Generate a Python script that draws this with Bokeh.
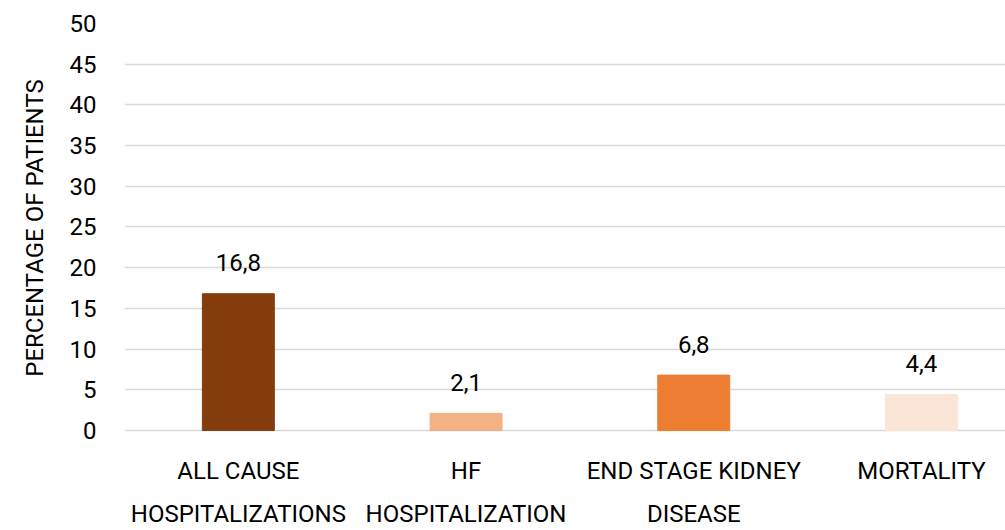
from bokeh.plotting import figure
from bokeh.models import ColumnDataSource, Range1d, LinearAxis, FixedTicker
from bokeh.embed import file_html
from bokeh.resources import INLINE
from bokeh.core.properties import value

categories_line1 = ["ALL CAUSE", "HF", "END STAGE KIDNEY", "MORTALITY"]
categories_line2 = ["HOSPITALIZATIONS", "HOSPITALIZATION", "DISEASE", ""]
values = [16.8, 2.1, 6.8, 4.4]
value_labels = ["16,8", "2,1", "6,8", "4,4"]
colors = ["#843C0C", "#F4B183", "#ED7D31", "#FBE5D6"]
y_ticks = [0, 5, 10, 15, 20, 25, 30, 35, 40, 45, 50]

FONT = "Roboto"
positions = [i + 0.5 for i in range(len(values))]

src = ColumnDataSource(dict(x=positions, top=values, color=colors, lab=value_labels))

p = figure(width=1005, height=530, output_backend="svg", toolbar_location=None,
           x_range=Range1d(0, 881 / 227.7), y_range=Range1d(-0.25, 50),
           min_border_left=124, min_border_right=0, min_border_top=23, min_border_bottom=96,
           x_axis_location=None)
p.outline_line_color = None
p.background_fill_color = "white"

p.ygrid.ticker = FixedTicker(ticks=y_ticks)
p.ygrid.grid_line_color = "#d9d9d9"
p.ygrid.grid_line_width = 1.5
p.xgrid.visible = False

p.vbar(x="x", top="top", bottom=0, width=0.316, color="color", source=src)
p.text(x="x", y="top", text="lab", source=src, text_align="center", text_baseline="middle",
       y_offset=-31, text_font=value(FONT), text_font_size="24px", text_color="#000000")

ya = p.yaxis[0]
ya.ticker = FixedTicker(ticks=y_ticks)
ya.axis_line_color = None
ya.major_tick_line_color = None
ya.minor_tick_line_color = None
ya.major_tick_out = 0
ya.major_label_standoff = 28
ya.major_label_text_font = FONT
ya.major_label_text_font_size = "24px"
ya.major_label_text_color = "#000000"
ya.axis_label = "PERCENTAGE OF PATIENTS"
ya.axis_label_text_font = FONT
ya.axis_label_text_font_size = "24px"
ya.axis_label_text_font_style = "normal"
ya.axis_label_text_color = "#000000"
ya.axis_label_standoff = 18

def make_xaxis(labels, standoff):
    ax = LinearAxis(ticker=FixedTicker(ticks=positions),
                    major_label_overrides={pos: lab for pos, lab in zip(positions, labels)})
    ax.axis_line_color = None
    ax.major_tick_line_color = None
    ax.minor_tick_line_color = None
    ax.major_tick_out = 0
    ax.major_tick_in = 0
    ax.major_label_standoff = standoff
    ax.major_label_text_font = FONT
    ax.major_label_text_font_size = "24px"
    ax.major_label_text_color = "#000000"
    return ax

p.add_layout(make_xaxis(categories_line1, 24), "below")
p.add_layout(make_xaxis(categories_line2, 12), "below")

open("out.html", "w").write(file_html(p, INLINE))
